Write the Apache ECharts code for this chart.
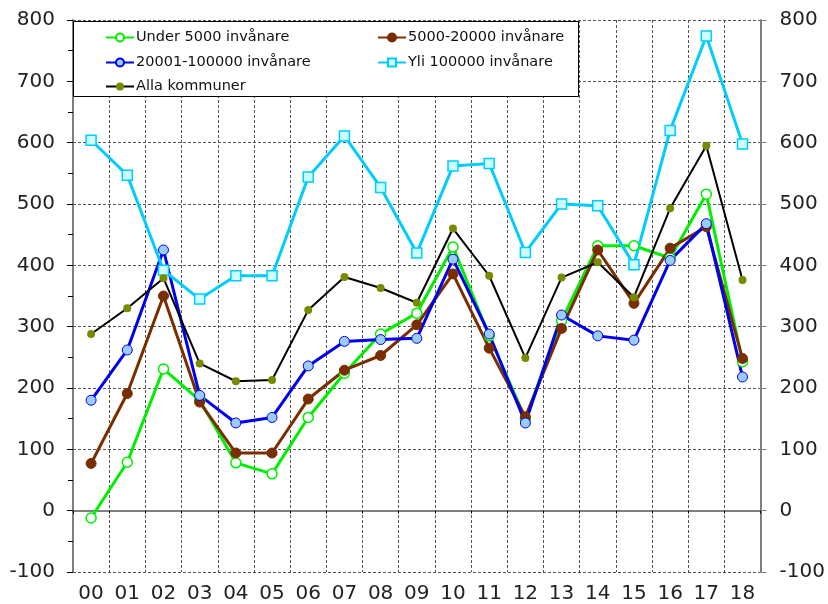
<!DOCTYPE html>
<html>
<head>
<meta charset="utf-8">
<script src="https://cdn.jsdelivr.net/npm/echarts@6/dist/echarts.min.js"></script>
<style>
html,body{margin:0;padding:0;background:#fff;}
#chart{width:828px;height:604px;}
</style>
</head>
<body>
<div id="chart"></div>
<script>
var years = ['00','01','02','03','04','05','06','07','08','09','10','11','12','13','14','15','16','17','18'];
var under5000 = [-12, 79, 231, 180, 78, 60, 152, 224, 288, 322, 430, 285, 150, 310, 432, 432, 412, 516, 243];
var s5000_20000 = [77, 191, 350, 177, 94, 94, 182, 229, 253, 303, 386, 265, 153, 297, 425, 338, 428, 463, 248];
var s20001_100000 = [180, 262, 425, 188, 143, 152, 236, 276, 279, 281, 410, 288, 143, 319, 285, 278, 408, 468, 218];
var yli100000 = [604, 547, 392, 345, 383, 383, 544, 611, 527, 420, 562, 566, 421, 500, 497, 401, 620, 774, 598];
var alla = [288, 330, 379, 240, 211, 213, 327, 381, 363, 339, 460, 383, 249, 380, 405, 348, 493, 595, 376];
var yTicks = {min: -100, max: 800, step: 100};

var chart = echarts.init(document.getElementById('chart'));
var font = 'DejaVu Sans, Verdana, sans-serif';

// one legend per entry so each sits where it does in the original box
function legendAt(name, left, top) {
    return {
        data: [name],
        left: left,
        top: top,
        padding: 0,
        itemWidth: 28,
        itemHeight: 10,
        itemGap: 3,
        z: 10,
        selectedMode: false,
        textStyle: {fontFamily: font, fontSize: 14.5, color: '#111', padding: [0, 0, 0, -3]}
    };
}

var option = {
    animation: false,
    backgroundColor: '#fff',
    grid: {left: 73, right: 67, top: 20, bottom: 32, containLabel: false},
    graphic: [{
        type: 'rect',
        z: 5,
        shape: {x: 73.5, y: 21.5, width: 505, height: 75},
        style: {fill: '#fff', stroke: '#000', lineWidth: 1}
    }],
    legend: [
        legendAt('Under 5000 invånare', 105, 30),
        legendAt('5000-20000 invånare', 377, 30),
        legendAt('20001-100000 invånare', 105, 55),
        legendAt('Yli 100000 invånare', 377, 55),
        legendAt('Alla kommuner', 105, 79)
    ],
    xAxis: [{
        type: 'category',
        data: years,
        boundaryGap: true,
        axisLine: {show: false, onZero: false},
        axisTick: {show: false},
        axisLabel: {fontFamily: font, fontSize: 20, color: '#222', margin: 12},
        splitLine: {show: true, lineStyle: {color: '#555', width: 1, type: [3, 2]}}
    }, {
        // zero line with its ticks
        type: 'category',
        data: years,
        position: 'bottom',
        boundaryGap: true,
        axisLine: {show: true, onZero: true, lineStyle: {color: '#808080', width: 2}},
        axisTick: {show: true, length: 3, lineStyle: {color: '#000', width: 1}},
        axisLabel: {show: false},
        splitLine: {show: false}
    }],
    yAxis: [{
        type: 'value',
        min: yTicks.min,
        max: yTicks.max,
        interval: yTicks.step,
        axisLine: {show: true, lineStyle: {color: '#808080', width: 2}},
        axisTick: {show: true, length: 6, lineStyle: {color: '#000'}},
        minorTick: {show: true, splitNumber: 2, length: 5, lineStyle: {color: '#000'}},
        axisLabel: {fontFamily: font, fontSize: 20, color: '#222', margin: 18},
        splitLine: {show: true, lineStyle: {color: '#555', width: 1, type: [3, 2]}}
    }, {
        type: 'value',
        position: 'right',
        min: yTicks.min,
        max: yTicks.max,
        interval: yTicks.step,
        axisLine: {show: true, lineStyle: {color: '#808080', width: 2}},
        axisTick: {show: true, length: 6, lineStyle: {color: '#808080'}},
        axisLabel: {fontFamily: font, fontSize: 20, color: '#222', margin: 19},
        splitLine: {show: false}
    }],
    series: [{
        name: 'Under 5000 invånare',
        type: 'line',
        data: under5000,
        symbol: 'circle',
        symbolSize: 10,
        lineStyle: {color: '#00ee00', width: 3},
        itemStyle: {color: '#fff', borderColor: '#00ee00', borderWidth: 1.5}
    }, {
        name: '5000-20000 invånare',
        type: 'line',
        data: s5000_20000,
        symbol: 'circle',
        symbolSize: 10,
        lineStyle: {color: '#7a2e00', width: 3},
        itemStyle: {color: '#7a2e00', borderColor: '#7a2e00', borderWidth: 1}
    }, {
        name: '20001-100000 invånare',
        type: 'line',
        data: s20001_100000,
        symbol: 'circle',
        symbolSize: 10,
        lineStyle: {color: '#0000ee', width: 3},
        itemStyle: {color: '#99ccff', borderColor: '#0000ee', borderWidth: 1}
    }, {
        name: 'Yli 100000 invånare',
        type: 'line',
        data: yli100000,
        symbol: 'rect',
        symbolSize: 10,
        lineStyle: {color: '#00ccff', width: 3},
        itemStyle: {color: '#ccffff', borderColor: '#00ccff', borderWidth: 1.5}
    }, {
        name: 'Alla kommuner',
        type: 'line',
        data: alla,
        symbol: 'circle',
        symbolSize: 8,
        lineStyle: {color: '#000', width: 2},
        itemStyle: {color: '#7a8a00', borderColor: '#7a8a00', borderWidth: 0}
    }]
};
chart.setOption(option);
</script>
</body>
</html>
